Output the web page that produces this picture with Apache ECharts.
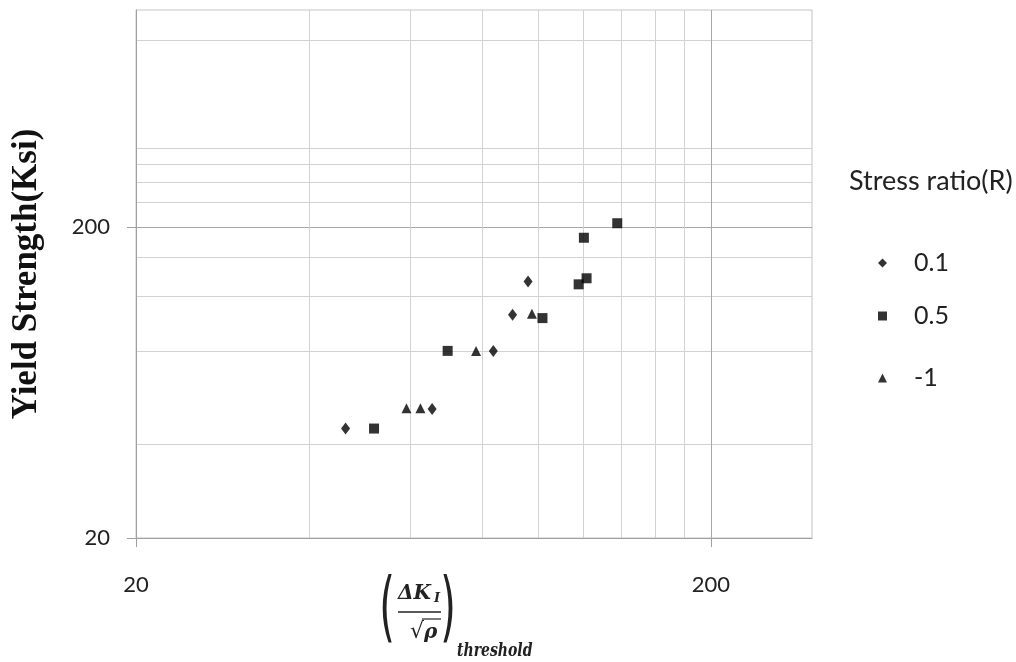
<!DOCTYPE html>
<html><head><meta charset="utf-8">
<script src="https://cdn.jsdelivr.net/npm/echarts@6/dist/echarts.min.js"></script>
<style>html,body{margin:0;padding:0;background:#fff}#c{width:1016px;height:662px}</style>
</head><body><div id="c"></div>
<script>
// ---- data ----
const seriesNames = ['0.1', '0.5', '-1'];
const seriesSymbols = ['diamond', 'rect', 'triangle'];
const r01X = [46.3, 65.5, 83.7, 90.4, 96.2];
const r01Y = [45.0, 52.0, 80.0, 104.6, 133.8];
const r05X = [51.9, 69.7, 101.9, 117.8, 121.6, 120.3, 137.5];
const r05Y = [45.0, 80.0, 102.0, 131.0, 137.0, 185.0, 206.0];
const rm1X = [59.1, 62.5, 78.1, 97.7];
const rm1Y = [52.3, 52.3, 80.0, 105.4];
const xTickLabels = [20, 200];
const yTickLabels = [20, 200];
const xMinorGrid = [40, 60, 80, 100, 120, 140, 160, 180];
const yMinorGrid = [40, 80, 120, 160, 240, 280, 320, 360, 800];
const xRange = [20, 300];
const yRange = [20, 1000];
const yTitle = 'Yield Strength(Ksi)';
const legendTitle = 'Stress ratio(R)';

function pairs(xs, ys) { return xs.map((x, i) => [x, ys[i]]); }

const chart = echarts.init(document.getElementById('c'), null, { renderer: 'canvas' });
const ink = '#222';
const mathFont = '"DejaVu Serif"';

function baseAxis(range) {
  return { type: 'log', logBase: 10, min: range[0], max: range[1], minorTick: { show: false }, minorSplitLine: { show: false } };
}

const legendTops = [243, 296, 358];
const legends = seriesNames.map((n, i) => ({
  orient: 'vertical', left: 873, top: legendTops[i], itemWidth: 9, itemHeight: 9,
  selectedMode: false,
  data: [{ name: n, icon: seriesSymbols[i] }],
  textStyle: { fontFamily: 'Lato', fontSize: 25, color: ink, lineHeight: 30, padding: [0, 0, 0, 22] }
}));

const option = {
  animation: false,
  backgroundColor: '#fff',
  grid: { left: 136, top: 10, right: 204, bottom: 124, show: true, borderColor: '#c4c4c4', borderWidth: 1 },
  xAxis: [
    Object.assign(baseAxis(xRange), {
      position: 'bottom',
      axisLine: { show: true, lineStyle: { color: '#a0a0a0', width: 1 } },
      axisTick: { show: true, customValues: xTickLabels, length: 9, lineStyle: { color: '#a0a0a0' } },
      axisLabel: { show: true, customValues: xTickLabels, margin: 36, fontSize: 22, fontFamily: 'Lato', color: ink },
      splitLine: { show: true, lineStyle: { color: '#a8a8a8', width: 1 } }
    }),
    Object.assign(baseAxis(xRange), {
      position: 'bottom',
      axisLine: { show: false },
      axisTick: { show: false, customValues: xMinorGrid },
      axisLabel: { show: false },
      splitLine: { show: true, lineStyle: { color: '#d2d2d2', width: 1 } }
    })
  ],
  yAxis: [
    Object.assign(baseAxis(yRange), {
      position: 'left',
      name: yTitle, nameLocation: 'middle', nameGap: 92,
      nameTextStyle: { fontFamily: '"Liberation Serif"', fontWeight: 'bold', fontSize: 35, color: '#111' },
      axisLine: { show: true, lineStyle: { color: '#a0a0a0', width: 1 } },
      axisTick: { show: true, customValues: yTickLabels, length: 9, lineStyle: { color: '#a0a0a0' } },
      axisLabel: { show: true, customValues: yTickLabels, margin: 26, fontSize: 22, fontFamily: 'Lato', color: ink },
      splitLine: { show: true, lineStyle: { color: '#a8a8a8', width: 1 } }
    }),
    Object.assign(baseAxis(yRange), {
      position: 'left',
      axisLine: { show: false },
      axisTick: { show: false, customValues: yMinorGrid },
      axisLabel: { show: false },
      splitLine: { show: true, lineStyle: { color: '#d2d2d2', width: 1 } }
    })
  ],
  title: {
    text: legendTitle, left: 849, top: 168, padding: 0,
    textStyle: { fontFamily: 'Lato', fontSize: 27, fontWeight: 'normal', color: ink }
  },
  legend: legends,
  series: [
    { name: seriesNames[0], type: 'scatter', xAxisIndex: 0, yAxisIndex: 0, symbol: seriesSymbols[0], symbolSize: [9, 12],
      itemStyle: { color: '#000' }, data: pairs(r01X, r01Y), z: 5 },
    { name: seriesNames[1], type: 'scatter', xAxisIndex: 0, yAxisIndex: 0, symbol: seriesSymbols[1], symbolSize: 10,
      itemStyle: { color: '#000' }, data: pairs(r05X, r05Y), z: 5 },
    { name: seriesNames[2], type: 'scatter', xAxisIndex: 0, yAxisIndex: 0, symbol: seriesSymbols[2], symbolSize: [10, 10],
      itemStyle: { color: '#000' }, data: pairs(rm1X, rm1Y), z: 5 }
  ],
  graphic: [
    { type: 'text', x: 387, y: 612, scaleY: 1.9, style: { text: '(', font: '40px "DejaVu Sans"', fill: ink, align: 'center', verticalAlign: 'middle' } },
    { type: 'text', x: 448, y: 612, scaleY: 1.9, style: { text: ')', font: '40px "DejaVu Sans"', fill: ink, align: 'center', verticalAlign: 'middle' } },
    { type: 'text', x: 398, y: 594, style: { text: 'ΔK', font: 'italic bold 20px ' + mathFont, fill: ink, align: 'left', verticalAlign: 'middle' } },
    { type: 'text', x: 434, y: 599, style: { text: 'I', font: 'italic bold 13px ' + mathFont, fill: ink, align: 'left', verticalAlign: 'middle' } },
    { type: 'line', shape: { x1: 398, y1: 612, x2: 441, y2: 612 }, style: { stroke: ink, lineWidth: 1.5 } },
    { type: 'text', x: 410, y: 632, style: { text: '√', font: '22px "DejaVu Sans"', fill: ink, align: 'left', verticalAlign: 'middle' } },
    { type: 'line', shape: { x1: 422, y1: 619, x2: 441, y2: 619 }, style: { stroke: ink, lineWidth: 1.2 } },
    { type: 'text', x: 424, y: 633, style: { text: 'ρ', font: 'italic bold 20px ' + mathFont, fill: ink, align: 'left', verticalAlign: 'middle' } },
    { type: 'text', x: 457, y: 651, scaleY: 1.35, style: { text: 'threshold', font: 'italic bold 14px ' + mathFont, fill: ink, align: 'left', verticalAlign: 'middle' } }
  ]
};
chart.setOption(option);
</script></body></html>
